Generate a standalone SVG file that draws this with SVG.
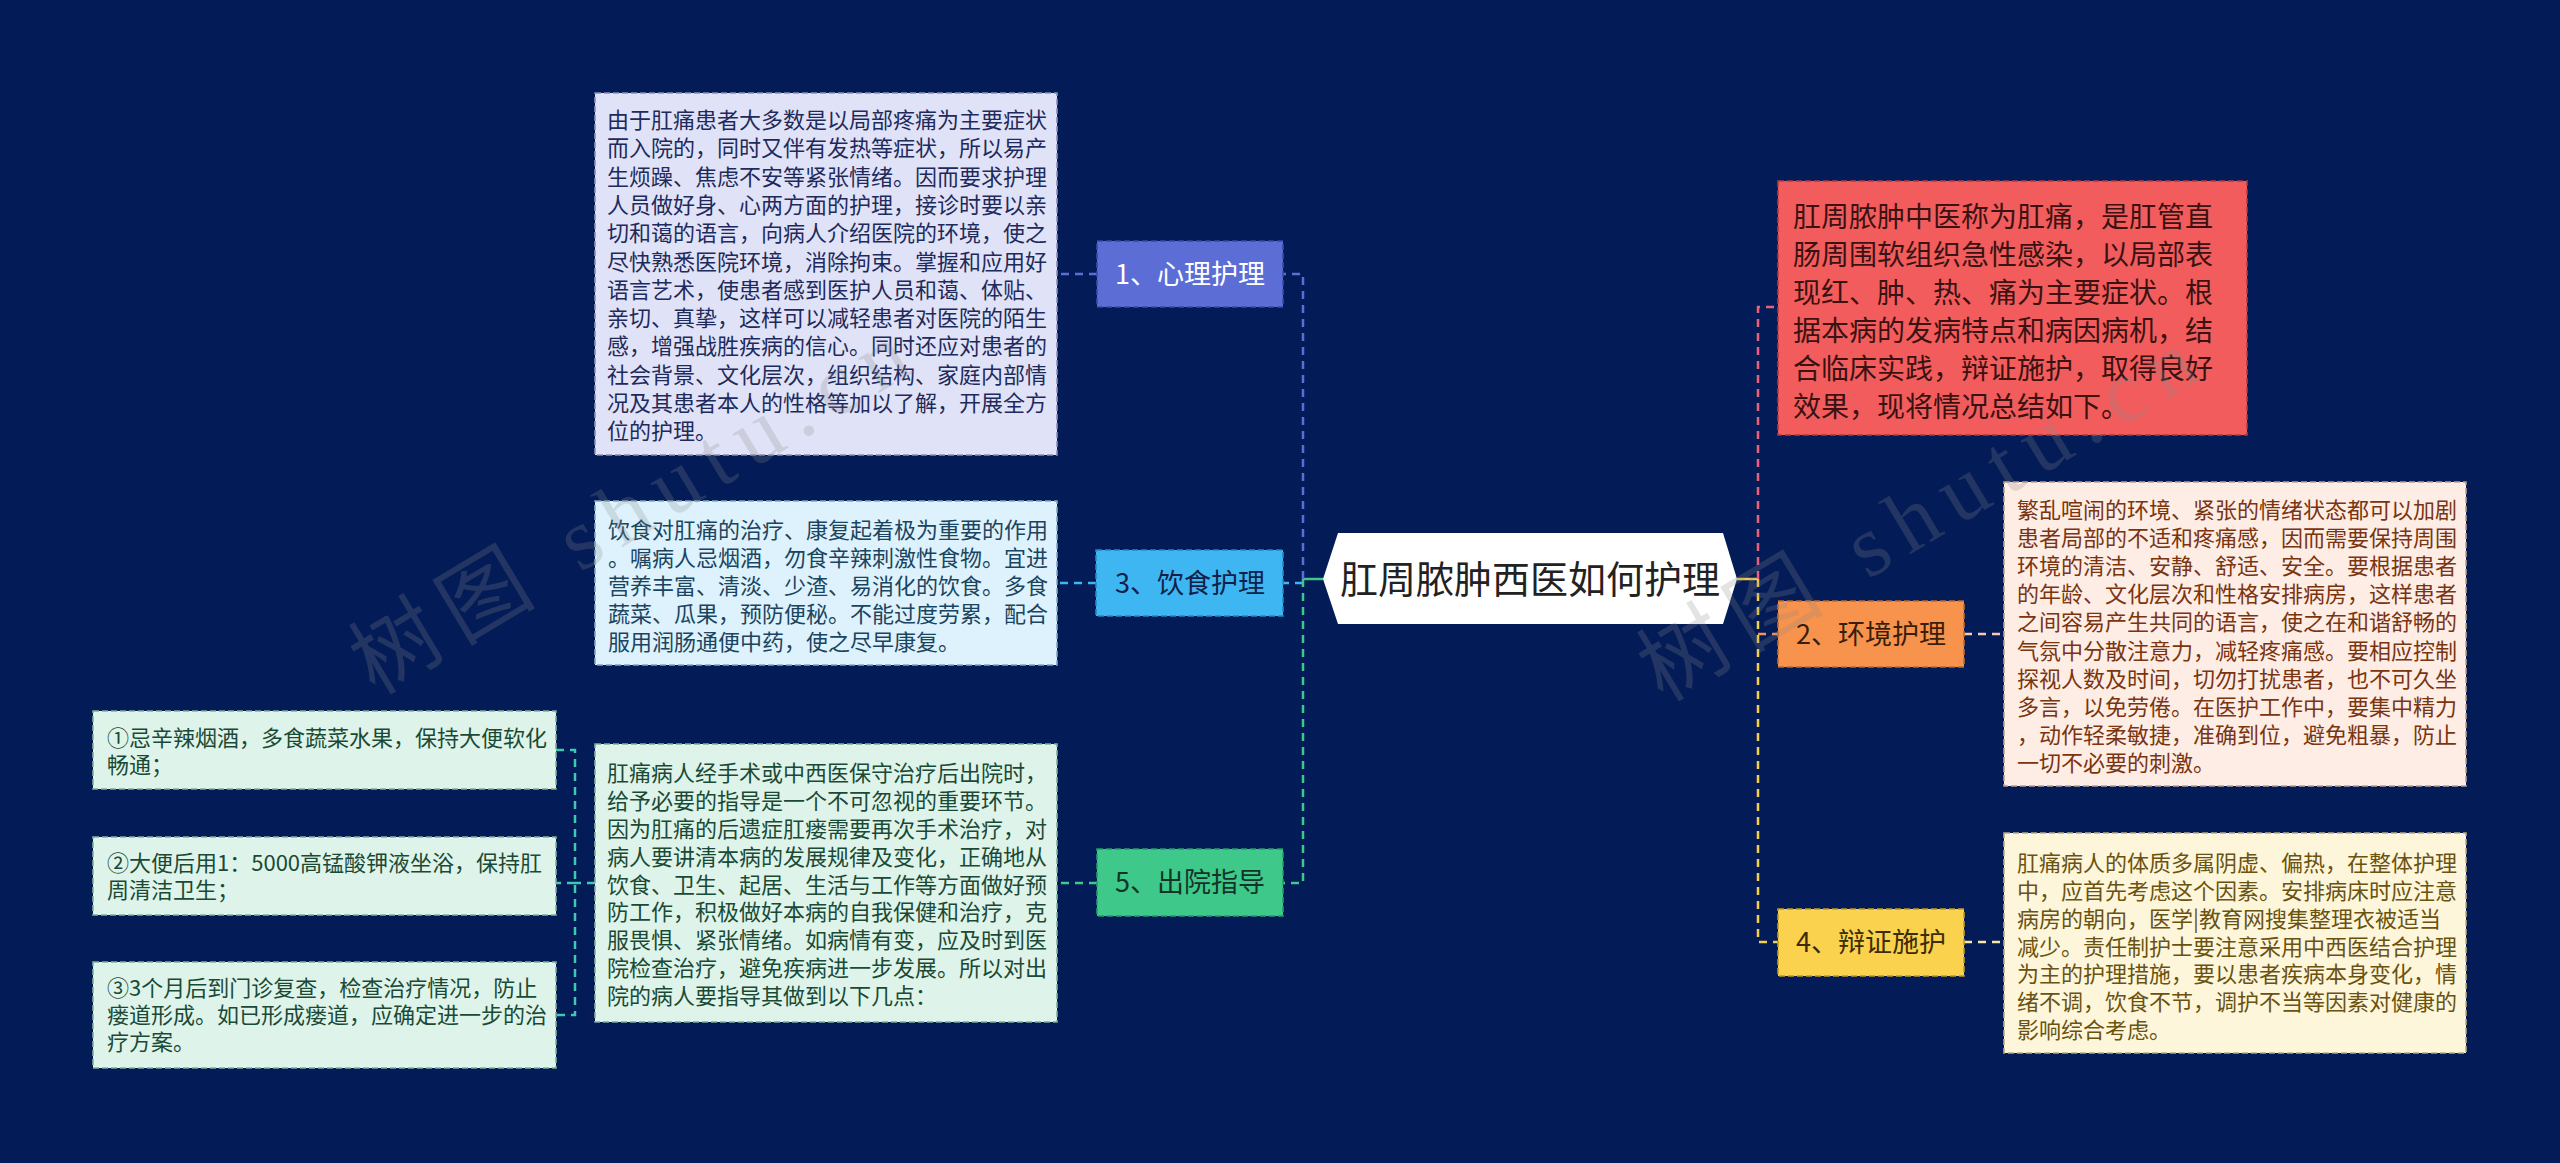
<svg xmlns="http://www.w3.org/2000/svg" width="2560" height="1163" viewBox="0 0 2560 1163">
<style>
text{font-family:"Noto Sans CJK SC","Noto Sans",sans-serif}
.d{font-size:22px}
.lbl{font-size:27px;text-anchor:middle}
.box{stroke-width:1.6;stroke-dasharray:6 3}
.c{fill:none;stroke-width:2.5;stroke-dasharray:8 6}
.s{fill:none;stroke-width:2.5}
.wm{font-family:"Liberation Serif","Noto Sans CJK SC",serif;font-size:88px;fill:#8a8a8a;fill-opacity:0.24}
</style>
<rect width="2560" height="1163" fill="#031b57"/>
<g id="connectors">
<path class="s" d="M1303 579H1323" stroke="#3ec98a"/>
<path class="c" d="M1303 579V274H1283" stroke="#5c6dd6"/>
<path class="c" d="M1303 583H1283" stroke="#3eb6f2"/>
<path class="c" d="M1303 579V883H1283" stroke="#3ec98a"/>
<path class="c" d="M1097 274H1057" stroke="#5c6dd6"/>
<path class="c" d="M1096 583H1057" stroke="#3eb6f2"/>
<path class="c" d="M1097 883H1057" stroke="#3ec98a"/>
<path class="c" d="M595 883H575" stroke="#3ec9b0"/>
<path class="c" d="M556 750H575V1015H556M575 883H556" stroke="#3ec9b0"/>
<path class="s" d="M1737 579H1758" stroke="#f2c94c"/>
<path class="c" d="M1758 579V307H1778" stroke="#e8607a"/>
<path class="c" d="M1758 579V942H1778" stroke="#f2d04c"/>
<path class="c" d="M1758 634H1778" stroke="#f5935a"/>
<path class="c" d="M1964 634H2004" stroke="#f8c9b0"/>
<path class="c" d="M1964 942H2004" stroke="#f6e6a8"/>
</g>
<g id="center">
<polygon points="1323,579 1338,533 1723,533 1737,579 1723,624 1338,624" fill="#ffffff"/>
<text x="1530" y="593" font-size="38" text-anchor="middle" fill="#222222">肛周脓肿西医如何护理</text>
</g>
<g id="intro">
<rect class="box" x="1778" y="181" width="469" height="254" fill="#f25c5c" stroke="#b83a3a"/>
<g font-size="28" fill="#3a1212">
<text x="1793" y="227">肛周脓肿中医称为肛痛，是肛管直</text>
<text x="1793" y="265">肠周围软组织急性感染，以局部表</text>
<text x="1793" y="303">现红、肿、热、痛为主要症状。根</text>
<text x="1793" y="341">据本病的发病特点和病因病机，结</text>
<text x="1793" y="379">合临床实践，辩证施护，取得良好</text>
<text x="1793" y="417">效果，现将情况总结如下。</text>
</g>
</g>
<g id="node1">
<rect class="box" x="1097" y="241" width="186" height="66" fill="#5c6dd6" stroke="#3a4aa8"/>
<text class="lbl" x="1190" y="284" fill="#ffffff">1、心理护理</text>
</g>
<g id="desc1">
<rect class="box" x="595" y="93" width="462" height="362" fill="#e0e3f7" stroke="#8a90b0"/>
<g class="d" fill="#1f2a5c">
<text x="607" y="128">由于肛痛患者大多数是以局部疼痛为主要症状</text>
<text x="607" y="156.3">而入院的，同时又伴有发热等症状，所以易产</text>
<text x="607" y="184.6">生烦躁、焦虑不安等紧张情绪。因而要求护理</text>
<text x="607" y="212.9">人员做好身、心两方面的护理，接诊时要以亲</text>
<text x="607" y="241.2">切和蔼的语言，向病人介绍医院的环境，使之</text>
<text x="607" y="269.5">尽快熟悉医院环境，消除拘束。掌握和应用好</text>
<text x="607" y="297.8">语言艺术，使患者感到医护人员和蔼、体贴、</text>
<text x="607" y="326.1">亲切、真挚，这样可以减轻患者对医院的陌生</text>
<text x="607" y="354.4">感，增强战胜疾病的信心。同时还应对患者的</text>
<text x="607" y="382.7">社会背景、文化层次，组织结构、家庭内部情</text>
<text x="607" y="411">况及其患者本人的性格等加以了解，开展全方</text>
<text x="607" y="439.3">位的护理。</text>
</g>
</g>
<g id="node3">
<rect class="box" x="1096" y="550" width="187" height="66" fill="#3eb6f2" stroke="#2388c0"/>
<text class="lbl" x="1190" y="593" fill="#10214a">3、饮食护理</text>
</g>
<g id="desc3">
<rect class="box" x="595" y="501" width="462" height="164" fill="#ddf2fc" stroke="#7fa8bf"/>
<g class="d" fill="#1a4460">
<text x="608" y="538">饮食对肛痛的治疗、康复起着极为重要的作用</text>
<text x="608" y="566">。嘱病人忌烟酒，勿食辛辣刺激性食物。宜进</text>
<text x="608" y="594">营养丰富、清淡、少渣、易消化的饮食。多食</text>
<text x="608" y="622">蔬菜、瓜果，预防便秘。不能过度劳累，配合</text>
<text x="608" y="650">服用润肠通便中药，使之尽早康复。</text>
</g>
</g>
<g id="node5">
<rect class="box" x="1097" y="849" width="186" height="67" fill="#3ec98a" stroke="#25996a"/>
<text class="lbl" x="1190" y="892" fill="#14342a">5、出院指导</text>
</g>
<g id="desc5">
<rect class="box" x="595" y="744" width="462" height="278" fill="#def4ea" stroke="#7fb09a"/>
<g class="d" fill="#1a4a35">
<text x="607" y="781">肛痛病人经手术或中西医保守治疗后出院时，</text>
<text x="607" y="809">给予必要的指导是一个不可忽视的重要环节。</text>
<text x="607" y="837">因为肛痛的后遗症肛瘘需要再次手术治疗，对</text>
<text x="607" y="865">病人要讲清本病的发展规律及变化，正确地从</text>
<text x="607" y="893">饮食、卫生、起居、生活与工作等方面做好预</text>
<text x="607" y="920">防工作，积极做好本病的自我保健和治疗，克</text>
<text x="607" y="948">服畏惧、紧张情绪。如病情有变，应及时到医</text>
<text x="607" y="976">院检查治疗，避免疾病进一步发展。所以对出</text>
<text x="607" y="1004">院的病人要指导其做到以下几点：</text>
</g>
</g>
<g id="sub1">
<rect class="box" x="93" y="711" width="463" height="78" fill="#def4ea" stroke="#7fb09a"/>
<g class="d" fill="#1a4a35">
<text x="107" y="746">①忌辛辣烟酒，多食蔬菜水果，保持大便软化</text>
<text x="107" y="773">畅通；</text>
</g>
</g>
<g id="sub2">
<rect class="box" x="93" y="837" width="463" height="78" fill="#def4ea" stroke="#7fb09a"/>
<g class="d" fill="#1a4a35">
<text x="107" y="871">②大便后用1：5000高锰酸钾液坐浴，保持肛</text>
<text x="107" y="898">周清洁卫生；</text>
</g>
</g>
<g id="sub3">
<rect class="box" x="93" y="962" width="463" height="106" fill="#def4ea" stroke="#7fb09a"/>
<g class="d" fill="#1a4a35">
<text x="107" y="996">③3个月后到门诊复查，检查治疗情况，防止</text>
<text x="107" y="1023">瘘道形成。如已形成瘘道，应确定进一步的治</text>
<text x="107" y="1050">疗方案。</text>
</g>
</g>
<g id="node2">
<rect class="box" x="1778" y="601" width="186" height="66" fill="#f7934c" stroke="#c06a2a"/>
<text class="lbl" x="1871" y="644" fill="#3b1d0b">2、环境护理</text>
</g>
<g id="desc2">
<rect class="box" x="2004" y="482" width="462" height="304" fill="#fdede4" stroke="#b8a090"/>
<g class="d" fill="#7a3410">
<text x="2017" y="518">繁乱喧闹的环境、紧张的情绪状态都可以加剧</text>
<text x="2017" y="546">患者局部的不适和疼痛感，因而需要保持周围</text>
<text x="2017" y="574">环境的清洁、安静、舒适、安全。要根据患者</text>
<text x="2017" y="602">的年龄、文化层次和性格安排病房，这样患者</text>
<text x="2017" y="630">之间容易产生共同的语言，使之在和谐舒畅的</text>
<text x="2017" y="659">气氛中分散注意力，减轻疼痛感。要相应控制</text>
<text x="2017" y="687">探视人数及时间，切勿打扰患者，也不可久坐</text>
<text x="2017" y="715">多言，以免劳倦。在医护工作中，要集中精力</text>
<text x="2017" y="743">，动作轻柔敏捷，准确到位，避免粗暴，防止</text>
<text x="2017" y="771">一切不必要的刺激。</text>
</g>
</g>
<g id="node4">
<rect class="box" x="1778" y="909" width="186" height="67" fill="#fbd24e" stroke="#c09a20"/>
<text class="lbl" x="1871" y="952" fill="#3b2d05">4、辩证施护</text>
</g>
<g id="desc4">
<rect class="box" x="2004" y="833" width="462" height="220" fill="#fdf6da" stroke="#b8ac80"/>
<g class="d" fill="#6a5210">
<text x="2017" y="871">肛痛病人的体质多属阴虚、偏热，在整体护理</text>
<text x="2017" y="899">中，应首先考虑这个因素。安排病床时应注意</text>
<text x="2017" y="927">病房的朝向，医学|教育网搜集整理衣被适当</text>
<text x="2017" y="955">减少。责任制护士要注意采用中西医结合护理</text>
<text x="2017" y="982">为主的护理措施，要以患者疾病本身变化，情</text>
<text x="2017" y="1010">绪不调，饮食不节，调护不当等因素对健康的</text>
<text x="2017" y="1038">影响综合考虑。</text>
</g>
</g>
<g id="watermarks">
<text class="wm" transform="translate(375,696) rotate(-31)" textLength="630" lengthAdjust="spacing">树图 shutu.cn</text>
<text class="wm" transform="translate(1663,703) rotate(-31)" textLength="630" lengthAdjust="spacing">树图 shutu.cn</text>
</g>
</svg>
